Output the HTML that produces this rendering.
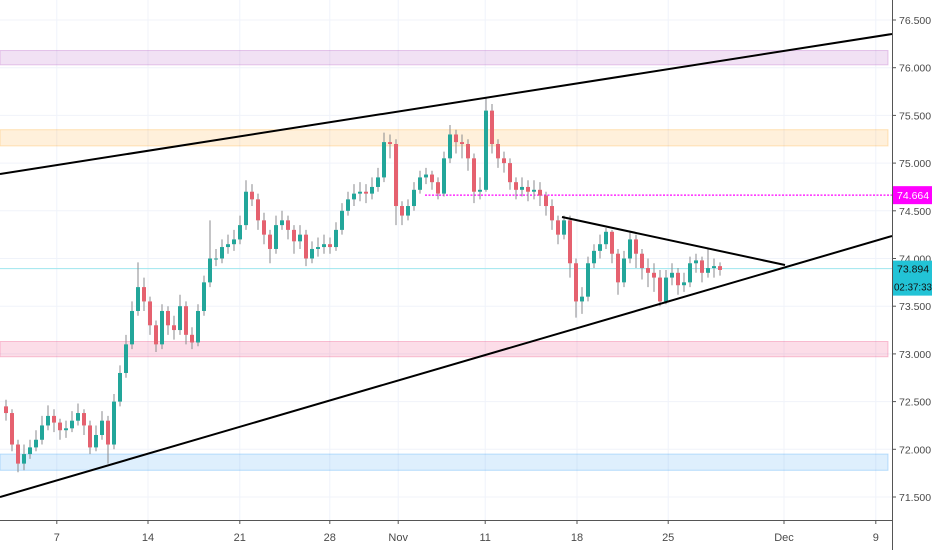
<!DOCTYPE html>
<html><head><meta charset="utf-8"><style>
body{margin:0;background:#fff;font-family:"Liberation Sans",sans-serif;}
svg{display:block}
</style></head><body>
<svg id="chart" width="932" height="550" xmlns="http://www.w3.org/2000/svg"></svg>
<script>
const closes=[72.38,72.05,71.85,71.95,72.02,72.10,72.25,72.35,72.28,72.20,72.22,72.30,72.38,72.25,72.02,72.15,72.30,72.05,72.50,72.80,
73.10,73.45,73.70,73.55,73.30,73.10,73.45,73.30,73.25,73.50,73.20,73.12,73.45,73.75,74.00,74.00,74.12,74.15,74.20,74.35,
74.70,74.62,74.40,74.25,74.10,74.35,74.40,74.30,74.18,74.25,74.00,74.10,74.12,74.15,74.12,74.30,74.50,74.62,74.68,74.70,
74.68,74.75,74.85,75.22,75.20,74.55,74.45,74.55,74.72,74.85,74.88,74.80,74.68,75.05,75.30,75.22,75.20,75.05,74.70,74.72,
75.55,75.20,75.05,75.00,74.80,74.72,74.75,74.70,74.72,74.66,74.55,74.40,74.25,74.40,73.95,73.55,73.60,73.95,74.08,74.15,
74.28,74.05,73.75,74.00,74.20,74.05,73.90,73.85,73.80,73.55,73.80,73.85,73.72,73.75,73.95,73.98,73.85,73.90,73.92,73.88];
const highs=[72.52,72.42,72.10,72.05,72.10,72.20,72.35,72.46,72.42,72.32,72.30,72.40,72.48,72.42,72.30,72.25,72.40,72.35,72.58,72.88,
73.20,73.55,73.96,73.80,73.60,73.35,73.52,73.50,73.40,73.62,73.55,73.28,73.52,73.82,74.40,74.10,74.20,74.25,74.30,74.45,
74.82,74.78,74.68,74.48,74.30,74.45,74.50,74.45,74.35,74.35,74.30,74.18,74.22,74.25,74.22,74.38,74.58,74.70,74.78,74.80,
74.78,74.85,74.95,75.32,75.30,75.25,74.60,74.62,74.80,74.92,74.95,74.92,74.85,75.12,75.40,75.35,75.30,75.25,75.10,74.85,
75.68,75.62,75.25,75.12,75.05,74.85,74.85,74.82,74.82,74.80,74.70,74.62,74.45,74.45,74.45,74.00,73.70,74.02,74.15,74.25,
74.32,74.30,74.10,74.08,74.28,74.25,74.10,74.00,73.95,73.88,73.88,73.95,73.90,73.85,74.02,74.05,74.02,74.10,74.00,73.96];
const lows=[72.30,71.98,71.76,71.78,71.90,71.98,72.05,72.20,72.18,72.10,72.12,72.18,72.25,72.15,71.95,71.98,72.10,71.85,72.00,72.45,
72.75,73.05,73.40,73.45,73.20,73.02,73.05,73.20,73.15,73.20,73.10,73.05,73.08,73.40,73.70,73.92,73.95,74.05,74.08,74.15,
74.30,74.55,74.30,74.15,73.95,74.05,74.30,74.20,74.05,74.10,73.92,73.95,74.02,74.05,74.05,74.08,74.25,74.45,74.55,74.60,
74.58,74.62,74.70,74.80,75.05,74.35,74.35,74.40,74.50,74.68,74.78,74.72,74.62,74.65,75.00,75.10,75.05,74.92,74.58,74.62,
74.70,75.10,74.95,74.90,74.72,74.62,74.65,74.60,74.62,74.55,74.45,74.30,74.15,74.20,73.80,73.38,73.42,73.55,73.90,74.00,
74.10,73.95,73.62,73.70,73.95,73.90,73.78,73.70,73.65,73.50,73.52,73.72,73.62,73.65,73.70,73.85,73.75,73.80,73.80,73.82];
const firstOpen=72.45;
const priceTicks=[76.5,76.0,75.5,75.0,74.5,74.0,73.5,73.0,72.5,72.0,71.5];
const dateLabels=["7","14","21","28","Nov","11","18","25","Dec","9"];
const dateIndex=[8.8,24,39.3,54.3,65.7,80.2,95.5,110.7,130,145.3];
const lastPrice=73.894, markPrice=74.664;

const NS="http://www.w3.org/2000/svg";
const svg=document.getElementById('chart');
const PW=892, AX=520;
function y(p){return 20+(76.5-p)*95.4;}
function x(i){return 4+6*i;}
function mk(tag,attrs,parent){const e=document.createElementNS(NS,tag);for(const k in attrs)e.setAttribute(k,attrs[k]);(parent||svg).appendChild(e);return e;}

priceTicks.forEach(p=>{const l=mk('line',{x1:0,x2:PW,y1:y(p),y2:y(p),stroke:'#f0f3fa','stroke-width':1});

});
dateIndex.forEach(d=>{const l=mk('line',{x1:x(d),x2:x(d),y1:0,y2:AX,stroke:'#f0f3fa','stroke-width':1});

});

const zones=[[76.03,76.18,'rgba(186,104,200,0.2)','rgba(186,104,200,0.35)','resistance-zone-purple'],
[75.18,75.35,'rgba(255,152,0,0.14)','rgba(255,152,0,0.25)','resistance-zone-orange'],
[72.97,73.13,'rgba(233,30,99,0.15)','rgba(233,30,99,0.25)','support-zone-pink'],
[71.78,71.95,'rgba(33,150,243,0.15)','rgba(33,150,243,0.28)','support-zone-blue']];
zones.forEach(z=>{const r=mk('rect',{x:0,y:y(z[1]),width:888,height:y(z[0])-y(z[1]),fill:z[2],stroke:z[3],'stroke-width':1});

});

const lp=mk('line',{x1:0,x2:PW,y1:y(lastPrice),y2:y(lastPrice),stroke:'#9ee6ee','stroke-width':1});


const ml=mk('line',{x1:425,x2:PW,y1:y(markPrice),y2:y(markPrice),stroke:'#ff00ff','stroke-width':1.3,'stroke-dasharray':'2,1.5'});



closes.forEach((c,i)=>{
  const o=i===0?firstOpen:closes[i-1];
  const up=c>=o;const g=mk('g',{});
  
  
  mk('line',{x1:x(i)+2,x2:x(i)+2,y1:y(highs[i]),y2:y(lows[i]),stroke:'#8a8a8c','stroke-width':1},g);
  const top=y(Math.max(o,c)),bot=y(Math.min(o,c));
  mk('rect',{x:x(i),y:top,width:4,height:Math.max(1,bot-top),fill:up?'#22a69a':'#e5616f'},g);
});

const tl=[[0,174,892,34,'channel-upper-trendline'],[0,497,892,236,'channel-lower-trendline'],[562,217,785,265,'triangle-upper-trendline']];
tl.forEach(t=>{const l=mk('line',{x1:t[0],y1:t[1],x2:t[2],y2:t[3],stroke:'#000','stroke-width':2});

});

const ya=mk('line',{x1:PW+0.5,x2:PW+0.5,y1:0,y2:550,stroke:'#555','stroke-width':1});


const xa=mk('line',{x1:0,x2:PW,y1:AX+0.5,y2:AX+0.5,stroke:'#555','stroke-width':1});


priceTicks.forEach(p=>{
  mk('line',{x1:PW,x2:PW+4,y1:y(p),y2:y(p),stroke:'#555'});
  const t=mk('text',{x:PW+7,y:y(p)+4,'font-size':10.5,fill:'#4a4a4a'});t.textContent=p.toFixed(3);
  
  
});
dateLabels.forEach((d,k)=>{
  const xx=x(dateIndex[k]);
  mk('line',{x1:xx,x2:xx,y1:AX,y2:AX+4,stroke:'#555'});
  const t=mk('text',{x:xx,y:541,'font-size':11,fill:'#4a4a4a','text-anchor':'middle'});t.textContent=d;
  
  
});

const b1=mk('rect',{x:PW+1,y:y(markPrice)-9,width:40,height:18,fill:'#ff00ff'});


const t1=mk('text',{x:PW+5,y:y(markPrice)+4,'font-size':10.5,fill:'#fff'});t1.textContent=markPrice.toFixed(3);


const b2=mk('rect',{x:PW+1,y:y(lastPrice)-8,width:40,height:35,fill:'#22c3d6'});


const t2=mk('text',{x:PW+5,y:y(lastPrice)+4,'font-size':10.5,fill:'#111'});t2.textContent=lastPrice.toFixed(3);


const t3=mk('text',{x:PW+2,y:y(lastPrice)+22,'font-size':10,fill:'#111',textLength:38,lengthAdjust:'spacingAndGlyphs'});t3.textContent="02:37:33";


</script>
</body></html>
